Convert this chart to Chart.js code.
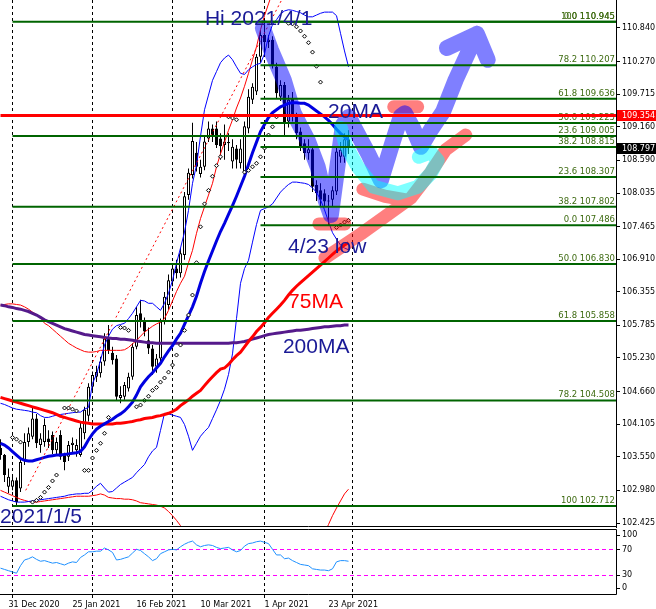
<!DOCTYPE html>
<html lang="ja">
<head>
<meta charset="UTF-8">
<title>USDJPY Daily</title>
<script src="https://cdn.jsdelivr.net/npm/chart.js@4.4.1/dist/chart.umd.min.js"></script>
<style>
  html, body { margin: 0; padding: 0; background: #fff; }
  #wrap { position: relative; width: 656px; height: 609px; overflow: hidden; }
  #priceChart { position: absolute; left: 0; top: 0; }
  #rsiChart { position: absolute; left: 0; top: 528px; }
</style>
</head>
<body>
<div id="wrap">
  <canvas id="priceChart" width="656" height="528"></canvas>
  <canvas id="rsiChart" width="656" height="81"></canvas>
</div>
<script>
// daily bars, index 0 = 29 Dec 2020
const open  = [103.70,103.58,103.04,103.04,103.15,103.01,103.49,103.80,103.89,104.20,
               103.75,103.80,103.86,103.92,103.66,103.92,103.58,103.55,103.75,103.66,
               103.58,103.95,104.25,104.74,104.91,104.97,105.17,105.56,105.32,105.22,
               104.55,104.57,104.71,104.91,105.42,105.99,105.87,105.53,105.39,105.08,
               105.22,105.85,106.13,106.53,106.75,106.67,106.98,108.00,108.34,108.72,
               108.36,108.48,108.96,109.13,109.13,108.96,108.85,108.90,108.57,108.79,
               108.54,108.40,109.13,109.62,109.76,110.35,110.72,110.60,110.64,110.18,
               109.67,109.87,109.25,109.64,109.33,109.08,108.88,108.71,108.78,108.17,
               108.08,108.03,107.89,107.92,108.06,108.65,108.65,108.95];
const high  = [103.85,103.60,103.35,103.22,103.20,103.52,103.95,104.05,104.40,104.28,
               103.95,104.20,104.00,103.98,103.88,104.00,103.62,103.82,103.88,103.85,
               104.15,104.40,104.80,105.00,105.10,105.25,105.65,105.79,105.42,105.28,
               104.75,104.82,104.98,105.48,106.10,106.22,105.92,105.75,105.45,105.30,
               105.90,106.35,106.65,106.80,106.90,107.10,108.05,108.45,109.23,108.90,
               108.60,109.00,109.25,109.20,109.25,109.05,109.20,109.05,108.95,108.85,
               108.95,109.25,109.80,109.90,110.40,110.80,110.95,110.72,110.70,110.25,
               109.95,109.92,109.70,109.75,109.40,109.15,108.95,108.95,108.82,108.25,
               108.20,108.10,108.00,108.15,108.80,108.90,109.05,109.10];
const low   = [103.50,103.12,102.93,102.98,102.71,102.95,103.41,103.72,103.85,103.70,
               103.62,103.72,103.70,103.60,103.58,103.50,103.32,103.48,103.62,103.55,
               103.55,103.85,104.15,104.65,104.82,104.90,105.10,105.30,105.12,104.50,
               104.46,104.52,104.66,104.86,105.38,105.75,105.60,105.30,104.94,104.98,
               105.15,105.80,106.05,106.45,106.58,106.60,106.90,107.92,108.28,108.40,
               108.30,108.42,108.90,108.90,108.80,108.60,108.60,108.75,108.45,108.45,
               108.45,108.35,109.05,109.55,109.70,110.25,110.40,110.50,110.15,109.65,
               109.60,108.99,109.15,109.25,108.95,108.75,108.60,108.60,108.05,107.90,
               107.80,107.80,107.49,107.80,108.00,108.55,108.55,108.70];
const close = [103.58,103.24,103.21,103.15,102.78,103.46,103.80,103.95,104.20,103.78,
               103.86,104.09,103.80,103.66,103.80,103.55,103.46,103.75,103.79,103.75,
               104.05,104.35,104.74,104.94,104.99,105.17,105.56,105.36,105.19,104.57,
               104.60,104.77,104.91,105.42,105.96,105.87,105.68,105.39,105.08,105.22,
               105.85,106.27,106.55,106.75,106.67,107.01,107.98,108.38,108.92,108.48,
               108.48,108.91,109.13,109.02,108.85,108.83,108.91,108.88,108.82,108.60,
               108.79,109.17,109.67,109.84,110.35,110.72,110.60,110.64,110.21,109.73,
               109.87,109.22,109.62,109.33,109.05,108.82,108.71,108.78,108.14,108.03,
               107.92,107.89,107.90,108.08,108.74,108.77,108.95,108.80];

const ma20  = [103.78,103.75,103.70,103.64,103.58,103.52,103.49,103.48,103.48,103.50,
               103.52,103.54,103.56,103.57,103.58,103.58,103.59,103.60,103.61,103.62,
               103.64,103.72,103.84,103.94,104.02,104.07,104.11,104.15,104.19,104.24,
               104.28,104.33,104.40,104.48,104.60,104.74,104.83,104.91,104.98,105.06,
               105.14,105.25,105.35,105.44,105.55,105.65,105.80,105.95,106.10,106.28,
               106.50,106.70,106.88,107.05,107.22,107.38,107.52,107.67,107.82,107.98,
               108.15,108.32,108.52,108.72,108.90,109.08,109.20,109.32,109.40,109.45,
               109.50,109.53,109.56,109.57,109.57,109.56,109.56,109.53,109.48,109.43,
               109.38,109.33,109.27,109.20,109.12,109.05,108.99,108.94];
const ma75  = [104.56,104.54,104.52,104.50,104.48,104.46,104.44,104.42,104.40,104.38,
               104.36,104.34,104.32,104.30,104.27,104.24,104.22,104.20,104.18,104.16,
               104.14,104.13,104.12,104.11,104.11,104.11,104.11,104.11,104.11,104.12,
               104.12,104.13,104.14,104.15,104.17,104.18,104.20,104.21,104.22,104.24,
               104.25,104.27,104.29,104.32,104.36,104.42,104.47,104.52,104.58,104.63,
               104.68,104.76,104.84,104.91,104.98,105.04,105.06,105.12,105.20,105.27,
               105.33,105.42,105.51,105.59,105.68,105.75,105.83,105.92,105.99,106.06,
               106.13,106.21,106.30,106.38,106.45,106.51,106.57,106.63,106.69,106.75,
               106.81,106.87,106.93,106.99,107.05,107.10,107.15,107.19];
const ma200 = [106.13,106.12,106.10,106.09,106.07,106.06,106.04,106.02,105.99,105.96,
               105.92,105.88,105.85,105.82,105.79,105.76,105.73,105.71,105.69,105.67,
               105.65,105.63,105.62,105.61,105.60,105.59,105.58,105.57,105.56,105.56,
               105.55,105.55,105.54,105.53,105.52,105.51,105.50,105.49,105.49,105.48,
               105.48,105.48,105.48,105.48,105.48,105.48,105.48,105.48,105.48,105.48,
               105.48,105.48,105.48,105.48,105.48,105.48,105.48,105.48,105.49,105.49,
               105.50,105.51,105.53,105.55,105.57,105.59,105.61,105.63,105.64,105.65,
               105.66,105.67,105.68,105.69,105.70,105.70,105.71,105.72,105.73,105.74,
               105.75,105.76,105.76,105.77,105.78,105.78,105.79,105.79];
const bandUpBlue = [104.46,104.44,104.41,104.38,104.36,104.35,104.34,104.33,104.31,104.30,
               104.25,104.22,104.22,104.24,104.26,104.27,104.28,104.29,104.30,104.31,
               104.31,104.36,104.39,104.80,104.95,105.19,105.45,105.60,105.72,105.78,
               105.80,105.82,105.90,105.99,106.10,106.21,106.20,106.16,106.16,106.10,
               106.04,106.16,106.33,106.55,106.84,107.10,107.37,107.74,108.20,108.51,
               109.00,109.45,109.70,109.95,110.10,110.25,110.33,110.38,110.30,110.18,
               110.07,110.05,110.13,110.18,110.22,110.24,110.40,110.70,110.90,110.98,
               111.08,111.13,111.15,111.14,111.12,111.10,111.06,111.03,111.03,111.06,
               111.09,111.11,111.11,111.11,111.05,110.75,110.45,110.18];
const bandLowBlue = [102.88,102.85,102.82,102.80,102.78,102.78,102.78,102.79,102.80,102.81,
               102.82,102.83,102.84,102.85,102.86,102.87,102.88,102.90,102.91,102.92,
               102.92,102.93,102.93,102.98,103.05,103.10,103.02,102.95,102.96,103.02,
               103.08,103.12,103.16,103.20,103.28,103.35,103.42,103.55,103.65,103.71,
               104.00,104.29,104.28,104.26,104.24,104.22,104.10,103.90,103.66,103.78,
               103.90,103.98,104.05,104.20,104.35,104.51,104.70,104.95,105.30,105.90,
               106.50,106.75,106.89,107.20,107.50,107.74,107.77,107.80,107.85,107.95,
               108.05,108.12,108.18,108.22,108.22,108.21,108.20,108.18,108.12,108.05,
               107.92,107.75,107.55,107.36,107.25,107.15,107.10,107.07];
const bandUpRed = [106.13,106.14,106.15,106.15,106.14,106.13,106.10,106.06,106.01,105.97,
               105.92,105.82,105.78,105.72,105.66,105.60,105.54,105.48,105.44,105.40,
               105.37,105.34,105.33,105.33,105.34,105.36,105.36,105.36,105.36,105.36,
               105.36,105.37,105.41,105.47,105.53,105.60,105.67,105.72,105.77,105.81,
               105.84,105.90,106.04,106.20,106.36,106.50,106.62,106.85,107.06,107.35,
               107.60,107.80,108.00,108.20,108.48,108.70,108.90,109.10,109.28,109.48,
               109.65,109.85,110.07,110.30,110.52,110.81,111.05,111.25,111.45,111.65,
               null,null,null,null,null,null,null,null,null,null,
               null,null,null,null,null,null,null,null];
const bandLowRed = [102.98,102.95,102.92,102.89,102.86,102.83,102.81,102.79,102.78,102.78,
               102.79,102.80,102.81,102.82,102.83,102.84,102.85,102.86,102.87,102.88,
               102.88,102.88,102.88,102.89,102.90,102.92,102.90,102.86,102.85,102.84,
               102.84,102.83,102.83,102.82,102.80,102.77,102.76,102.75,102.74,102.73,
               102.71,102.68,102.62,102.55,102.47,102.38,102.28,102.15,null,null,
               null,null,null,null,null,null,null,null,null,null,
               null,null,null,null,null,null,null,null,null,null,
               null,null,null,null,null,null,null,null,null,null,
               102.05,102.25,102.40,102.55,102.68,102.80,102.92,103.00];
const sar   = [null,null,null,103.88,103.85,103.80,null,null,102.78,102.81,
               102.86,102.95,103.03,103.14,103.24,null,104.38,104.38,104.36,104.33,
               null,103.32,103.32,103.53,103.66,103.78,103.95,104.22,null,null,
               105.75,105.74,105.70,null,104.40,104.43,104.51,104.58,104.68,104.73,
               104.82,104.89,104.99,105.11,105.28,105.45,105.70,105.96,106.30,106.85,
               107.46,107.85,108.08,108.32,108.50,108.65,null,109.33,109.31,109.28,
               null,108.39,108.42,108.48,108.54,108.65,108.80,109.02,109.16,109.33,
               null,null,110.92,110.91,110.86,110.79,110.70,110.59,110.43,110.19,
               109.92,null,null,null,107.45,107.49,107.54,107.57];
const rsi   = [41,39,37,35,33,45,54,56,59,55,
               52,53,51,49,50,48,46,49,51,50,
               58,62,67,67,68,68,73,70,66,54,
               55,57,59,65,71,69,64,59,53,56,
               64,67,70,71,70,75,79,82,84,78,
               75,77,78,77,74,72,73,74,70,67,
               69,76,80,81,83,84,82,80,71,62,
               62,56,57,53,50,47,46,45,40,39,
               38,38,37,40,51,53,53,52];

// fibonacci levels: two sets (Jan 5 low -> Apr 1 high, Apr 23 low -> Apr 1 high)
const fibPrice = [110.945,109.005,107.802,106.830,105.858,104.508,102.712,
                  110.945,110.207,109.636,109.225,108.815,108.307,107.486];
const fibPct   = ['0.0','23.6','38.2','50.0','61.8','78.2','100',
                  '100','78.2','61.8','50.0','38.2','23.6','0.0'];
const fibStart = [3,3,3,3,3,3,3,65,65,65,65,65,65,65];
const markPrice = 109.354;
const lastPrice = 108.797;
const trendIdx = [6.3, 72];
const trendPrice = [102.98, 111.54];

// hand-drawn strokes [bar index, price], null = pen lifted
const blueStroke = [[65.6,110.84],[67.6,110.47],[70.8,109.96],[73.3,109.39],[76.8,108.93],
  [79.3,108.48],[81.3,107.91],[82.6,107.66],[84.1,108.42],[85.6,109.19],[87.1,109.33],
  [88.8,109.10],[92.1,108.68],[95.1,108.25],[97.8,108.85],[100.1,109.34],[101.1,109.39],
  [103.1,109.14],[105.1,108.82],[107.6,109.11],[110.6,109.41],[113.8,109.96],[116.3,110.33],
  [119.1,110.74],null,[111.6,110.50],[119.1,110.74],[121.8,110.30]];
const cyanStroke = [[85.1,109.14],[86.3,108.85],[89.3,108.48],[93.3,108.14],[99.3,108.03],
  [104.3,108.14],[107.6,108.37],[109.3,108.59],[107.6,108.73],[104.6,108.65]];
const pinkStroke = [[79.6,107.51],[86.1,107.51],null,
  [81.1,106.93],[90.1,107.34],[102.6,107.95],[107.6,108.39],[111.3,108.77],[116.3,109.02],null,
  [90.6,108.10],[96.1,107.98],[101.1,107.92],null,
  [98.3,109.50],[104.3,109.50]];

const noteText  = ['Hi 2021/4/1','20MA','4/23 low','75MA','200MA','2021/1/5'];
const noteIdx   = [51.1, 81.9, 71.9, 71.9, 70.6, -0.1];
const notePrice = [110.891, 109.309, 107.013, 106.078, 105.313, 102.421];

const priceTicks = [110.840,110.270,109.715,109.160,108.590,108.035,107.465,106.910,
                    106.355,105.785,105.230,104.660,104.105,103.550,102.980,102.425];
const monthStarts = [3, 23, 43, 66, 88];
const tickIdx = [2, 18, 34, 50, 66, 82];
const tickText = ['31 Dec 2020','25 Jan 2021','16 Feb 2021','10 Mar 2021','1 Apr 2021','23 Apr 2021'];
const rsiLevels = [70, 30];
const rsiTicks = [100, 70, 30, 0];

const X_MIN = -0.125, X_MAX = 153.875;
const AXIS_FONT = '8px "DejaVu Sans"';
const NAVY = '#1a1a96';

const series = arr => arr.map((v, i) => ({x: i, y: v}));
const path = pts => pts.map(p => p ? {x: p[0], y: p[1]} : {x: 0, y: null});

function lineSet(data, color, width, order, extra) {
  return Object.assign({
    type: 'line', data, borderColor: color, borderWidth: width, pointRadius: 0,
    fill: false, tension: 0, spanGaps: false, order, clip: 0
  }, extra || {});
}

function hline(ctx, x1, y1, x2, y2) {
  ctx.beginPath(); ctx.moveTo(x1, y1); ctx.lineTo(x2, y2); ctx.stroke();
}

const mainDecor = {
  id: 'mainDecor',
  beforeDatasetsDraw(chart) {
    const {ctx, chartArea: a, scales: {x, y}} = chart;
    ctx.save();
    ctx.strokeStyle = '#000';
    ctx.lineWidth = 1;
    ctx.setLineDash([3, 3]);
    monthStarts.forEach(i => {
      const px = Math.floor(x.getPixelForValue(i)) + 0.5;
      hline(ctx, px, a.top, px, a.bottom);
    });
    ctx.setLineDash([]);
    ctx.font = '8.5px "DejaVu Sans"';
    ctx.fillStyle = '#3d6a10';
    ctx.textAlign = 'right';
    ctx.textBaseline = 'alphabetic';
    fibPrice.forEach((p, k) => {
      ctx.fillText(fibPct[k] + ' ' + p.toFixed(3), a.right - 1, y.getPixelForValue(p) - 3);
    });
    ctx.restore();
  },
  afterDatasetsDraw(chart) {
    const {ctx, chartArea: a, scales: {x, y}} = chart;
    ctx.save();
    ctx.font = '21px "Liberation Sans", Arial, sans-serif';
    ctx.textAlign = 'left';
    ctx.textBaseline = 'alphabetic';
    noteText.forEach((t, k) => {
      ctx.fillStyle = t === '75MA' ? '#ff0000' : NAVY;
      ctx.fillText(t, x.getPixelForValue(noteIdx[k]), y.getPixelForValue(notePrice[k]));
    });
    ctx.strokeStyle = '#000';
    ctx.lineWidth = 1;
    hline(ctx, 0, a.bottom - 0.5, a.right + 1, a.bottom - 0.5);
    ctx.restore();
  },
  afterDraw(chart) {
    const {ctx, chartArea: a, scales: {y}} = chart;
    ctx.save();
    ctx.font = AXIS_FONT;
    ctx.textAlign = 'left';
    ctx.textBaseline = 'middle';
    [[markPrice, '#ff0000'], [lastPrice, '#000000']].forEach(([p, c]) => {
      const py = Math.round(y.getPixelForValue(p));
      ctx.fillStyle = c;
      ctx.fillRect(a.right + 1, py - 5, 40, 11);
      ctx.fillStyle = '#fff';
      ctx.fillText(p.toFixed(3), a.right + 6, py + 0.5);
    });
    ctx.restore();
  }
};

const bodyColors = close.map((c, i) => (c >= open[i] ? '#ffffff' : '#000000'));

new Chart(document.getElementById('priceChart'), {
  type: 'bar',
  data: {
    datasets: [
      lineSet([{x: 0, y: markPrice}, {x: X_MAX, y: markPrice}], '#ff0000', 3, 1),
      ...fibPrice.map((p, k) => lineSet([{x: fibStart[k], y: p}, {x: X_MAX, y: p}], '#006400', 2, 2)),
      lineSet(path(cyanStroke), 'rgba(0,255,255,0.5)', 14, 3,
        {borderCapStyle: 'round', borderJoinStyle: 'round'}),
      lineSet(path(blueStroke), 'rgba(0,0,255,0.5)', 16, 4,
        {borderCapStyle: 'round', borderJoinStyle: 'round'}),
      lineSet(path(pinkStroke), 'rgba(255,0,0,0.5)', 13, 5,
        {borderCapStyle: 'round', borderJoinStyle: 'round'}),
      lineSet(series(sar), '#000', 1, 6, {
        showLine: false, pointRadius: 2, pointStyle: 'rectRot',
        pointBackgroundColor: '#fff', pointBorderColor: '#000', pointBorderWidth: 1
      }),
      lineSet(trendIdx.map((v, k) => ({x: v, y: trendPrice[k]})), '#ff0000', 1, 7, {borderDash: [2, 3]}),
      lineSet(series(ma20), '#0000e0', 3, 8),
      lineSet(series(ma75), '#ff0000', 3, 9),
      lineSet(series(ma200), '#551a8b', 3, 10),
      lineSet(series(bandUpBlue), '#0000ff', 1, 11),
      lineSet(series(bandLowBlue), '#0000ff', 1, 12),
      lineSet(series(bandUpRed), '#ff0000', 1, 13),
      lineSet(series(bandLowRed), '#ff0000', 1, 14),
      {
        type: 'bar', order: 15, grouped: false, barThickness: 3, minBarLength: 1,
        data: close.map((c, i) => ({x: i, y: [open[i], c]})),
        backgroundColor: bodyColors, borderColor: '#000', borderWidth: 1, borderSkipped: false,
        inflateAmount: 0
      },
      {
        type: 'bar', order: 16, grouped: false, barThickness: 1,
        data: close.map((c, i) => ({x: i, y: [low[i], high[i]]})),
        backgroundColor: '#000', borderWidth: 0, inflateAmount: 0
      }
    ]
  },
  options: {
    responsive: false,
    animation: false,
    events: [],
    layout: {autoPadding: false, padding: {left: 0, right: 0, top: 0, bottom: 1}},
    plugins: {legend: {display: false}, tooltip: {enabled: false}},
    scales: {
      x: {
        type: 'linear', min: X_MIN, max: X_MAX, offset: false, display: false,
        afterFit: s => { s.paddingLeft = 0; s.paddingRight = 0; }
      },
      y: {
        type: 'linear', position: 'right', min: 102.357, max: 111.316,
        afterBuildTicks: s => { s.ticks = priceTicks.map(v => ({value: v})); },
        afterFit: s => {
          s.width = 40; s.paddingTop = 0; s.paddingBottom = 0; s.paddingLeft = 0; s.paddingRight = 0;
        },
        ticks: {
          autoSkip: false, color: '#000', padding: 2,
          font: {family: 'DejaVu Sans', size: 8},
          callback: v => Number(v).toFixed(3)
        },
        grid: {drawOnChartArea: false, drawTicks: true, tickLength: 4, color: '#000'},
        border: {display: true, color: '#000'}
      }
    }
  },
  plugins: [mainDecor]
});

const rsiDecor = {
  id: 'rsiDecor',
  beforeDatasetsDraw(chart) {
    const {ctx, chartArea: a, scales: {x, y}} = chart;
    ctx.save();
    ctx.lineWidth = 1;
    ctx.strokeStyle = '#000';
    ctx.setLineDash([3, 3]);
    monthStarts.forEach(i => {
      const px = Math.floor(x.getPixelForValue(i)) + 0.5;
      hline(ctx, px, a.top - 2, px, a.bottom + 4);
    });
    ctx.strokeStyle = '#ff00ff';
    ctx.setLineDash([4, 3]);
    rsiLevels.forEach(v => {
      const py = Math.floor(y.getPixelForValue(v)) + 0.5;
      hline(ctx, a.left, py, a.right, py);
    });
    ctx.restore();
  },
  afterDraw(chart) {
    const {ctx, chartArea: a, scales: {y}} = chart;
    ctx.save();
    ctx.strokeStyle = '#000';
    ctx.lineWidth = 1;
    hline(ctx, 0, a.top - 1.5, a.right + 0.5, a.top - 1.5);
    hline(ctx, 0, a.bottom + 0.5, a.right + 0.5, a.bottom + 0.5);
    hline(ctx, a.right + 0.5, a.top - 1.5, a.right + 0.5, a.bottom + 0.5);
    ctx.font = AXIS_FONT;
    ctx.fillStyle = '#000';
    ctx.textAlign = 'left';
    ctx.textBaseline = 'middle';
    rsiTicks.forEach(v => {
      const py = Math.min(Math.max(y.getPixelForValue(v), a.top + 4), a.bottom - 6);
      hline(ctx, a.right, Math.floor(py) + 0.5, a.right + 4, Math.floor(py) + 0.5);
      ctx.fillText(String(v), a.right + 6, py);
    });
    ctx.restore();
  }
};

new Chart(document.getElementById('rsiChart'), {
  type: 'line',
  data: {
    datasets: [lineSet(series(rsi), '#1e90ff', 1, 1)]
  },
  options: {
    responsive: false,
    animation: false,
    events: [],
    layout: {autoPadding: false, padding: {left: 0, right: 0, top: 3, bottom: 0}},
    plugins: {legend: {display: false}, tooltip: {enabled: false}},
    scales: {
      x: {
        type: 'linear', min: X_MIN, max: X_MAX, offset: false,
        afterBuildTicks: s => { s.ticks = tickIdx.map(v => ({value: v})); },
        afterFit: s => { s.height = 15; s.paddingLeft = 0; s.paddingRight = 0; },
        ticks: {
          autoSkip: false, maxRotation: 0, align: 'start', padding: 6, color: '#000',
          font: {family: 'DejaVu Sans', size: 8},
          callback: v => { const k = tickIdx.indexOf(v); return k >= 0 ? tickText[k] : ''; }
        },
        grid: {display: false, drawTicks: false},
        border: {display: false}
      },
      y: {
        type: 'linear', position: 'right', min: 0, max: 100,
        afterFit: s => { s.width = 40; s.paddingTop = 0; s.paddingBottom = 0; },
        ticks: {display: false},
        grid: {display: false},
        border: {display: false}
      }
    }
  },
  plugins: [rsiDecor]
});
</script>
</body>
</html>
